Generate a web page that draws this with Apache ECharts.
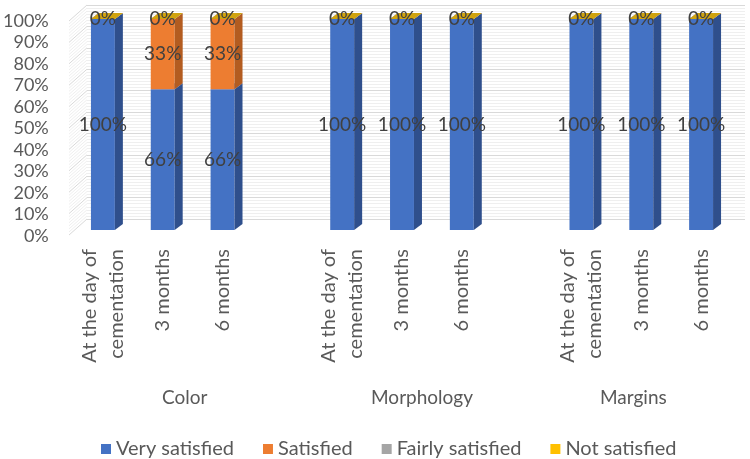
<!DOCTYPE html>
<html><head><meta charset="utf-8">
<script src="https://cdn.jsdelivr.net/npm/echarts@6/dist/echarts.min.js"></script>
<style>html,body{margin:0;padding:0;background:#fff}#c{width:750px;height:459px}</style>
</head><body><div id="c"></div>
<script>
// ---- data ----
const categories = ['At the day of\ncementation', '3 months', '6 months', '',
                    'At the day of\ncementation', '3 months', '6 months', '',
                    'At the day of\ncementation', '3 months', '6 months'];
const groups = ['Color', 'Morphology', 'Margins'];
const barSlots = [0, 1, 2, 4, 5, 6, 8, 9, 10];
const seriesNames = ['Very satisfied', 'Satisfied', 'Fairly satisfied', 'Not satisfied'];
const verySatisfied   = [100, 66, 66, 100, 100, 100, 100, 100, 100];
const satisfied       = [0, 33, 33, 0, 0, 0, 0, 0, 0];
const fairlySatisfied = [0, 0, 0, 0, 0, 0, 0, 0, 0];
const notSatisfied    = [0, 0, 0, 0, 0, 0, 0, 0, 0];
const yTicks = [0, 10, 20, 30, 40, 50, 60, 70, 80, 90, 100];

// ---- styling ----
const FONT = 'Lato';
const fronts = ['#4472C4', '#ED7D31', '#A5A5A5', '#FFC000'];
const sides  = ['#2F4F8C', '#B35C20', '#7A7A7A', '#BF9000'];
const tops   = ['#5A86D0', '#F19556', '#BDBDBD', '#D0A30E'];
const DX = 8, DY = 6;

// build 100%-stacked segments
const all = [verySatisfied, satisfied, fairlySatisfied, notSatisfied];
const segData = all.map(() => []);
barSlots.forEach((slot, j) => {
  const total = all.reduce((s, arr) => s + arr[j], 0);
  let cum = 0;
  all.forEach((arr, k) => {
    const h = arr[j] / total * 100;
    segData[k].push([slot, cum, cum + h, arr[j]]);
    cum += h;
  });
});

function makeRender(k) {
  return function (params, api) {
    const x = api.value(0), b = api.value(1), t = api.value(2), raw = api.value(3);
    const p0 = api.coord([x, b]), p1 = api.coord([x, t]);
    const w = api.size([1, 0])[0] * 0.4;
    const xl = p0[0] - w / 2, xr = p0[0] + w / 2;
    const ch = [];
    ch.push({ type: 'rect', shape: { x: xl, y: p1[1], width: w, height: p0[1] - p1[1] }, style: { fill: fronts[k] } });
    ch.push({ type: 'polygon', shape: { points: [[xr, p1[1]], [xr + DX, p1[1] - DY], [xr + DX, p0[1] - DY], [xr, p0[1]]] }, style: { fill: sides[k] } });
    ch.push({ type: 'polygon', shape: { points: [[xl, p1[1]], [xl + DX, p1[1] - DY], [xr + DX, p1[1] - DY], [xr, p1[1]]] }, style: { fill: tops[k] } });
    const show = (k === 3) || ((k === 0 || k === 1) && raw > 0);
    if (show) {
      ch.push({ type: 'text', z2: 100, style: { text: raw + '%', x: p0[0], y: (p0[1] + p1[1]) / 2, align: 'center', verticalAlign: 'middle', font: '19px ' + FONT, fill: '#404040' } });
    }
    return { type: 'group', children: ch };
  };
}

const series = seriesNames.map((name, k) => ({
  name: name,
  type: 'custom',
  xAxisIndex: 0, yAxisIndex: 0,
  clip: false,
  itemStyle: { color: fronts[k] },
  renderItem: makeRender(k),
  encode: { x: 0, y: [1, 2] },
  data: segData[k],
  z: 10 + k
}));

// left side wall lines
series.push({
  type: 'custom', xAxisIndex: 2, yAxisIndex: 2, silent: true, clip: false, z: 1,
  renderItem: function (params, api) {
    const v = api.value(1);
    const ch = [];
    const p = api.coord([0, v]);
    ch.push({ type: 'line', shape: { x1: p[0], y1: p[1], x2: p[0] - 18, y2: p[1] + 16 }, style: { stroke: '#d9d9d9', lineWidth: 1 } });
    if (v < 100) {
      for (let m = 1; m < 7; m++) {
        const q = api.coord([0, v + m * 10 / 7]);
        ch.push({ type: 'line', shape: { x1: q[0], y1: q[1], x2: q[0] - 18, y2: q[1] + 16 }, style: { stroke: '#efefef', lineWidth: 1 } });
      }
    }
    return { type: 'group', children: ch };
  },
  data: yTicks.map(v => [0, v])
});

const groupShift = { 'Color': 'c', 'Morphology': 'm', 'Margins': 'g' };

const chart = echarts.init(document.getElementById('c'), null, { renderer: 'canvas' });
chart.setOption({
  animation: false,
  backgroundColor: '#ffffff',
  legend: {
    data: seriesNames,
    left: 96, top: 434,
    icon: 'rect', itemWidth: 10, itemHeight: 10, itemGap: 29,
    textStyle: { fontFamily: FONT, fontSize: 20, color: '#595959' }
  },
  grid: [
    { left: 73, right: 19, top: 19, bottom: 229 },  // bars
    { left: 73, right: 19, top: 21, bottom: 223 },  // y labels
    { left: 87, right: 5, top: 5, bottom: 240 }     // back wall
  ],
  xAxis: [
    { type: 'category', gridIndex: 0, data: categories, boundaryGap: true,
      axisLine: { show: false }, axisTick: { show: false },
      axisLabel: { interval: 0, rotate: 90, margin: 19, fontFamily: FONT, fontSize: 20, lineHeight: 27, color: '#595959' } },
    { type: 'value', gridIndex: 1, show: false, min: 0, max: 1 },
    { type: 'value', gridIndex: 2, show: false, min: 0, max: 1 },
    { type: 'category', gridIndex: 0, data: groups, position: 'bottom', offset: 150,
      axisLine: { show: false }, axisTick: { show: false },
      axisLabel: { interval: 0, fontFamily: FONT, fontSize: 19, color: '#595959',
        formatter: v => '{' + groupShift[v] + '|' + v + '}',
        rich: {
          c: { fontFamily: FONT, fontSize: 19, color: '#595959', padding: [0, 0, 0, 4] },
          m: { fontFamily: FONT, fontSize: 19, color: '#595959', padding: [0, 0, 0, 40] },
          g: { fontFamily: FONT, fontSize: 19, color: '#595959', padding: [0, 0, 0, 24] }
        } } }
  ],
  yAxis: [
    { type: 'value', gridIndex: 0, min: 0, max: 100, interval: 10, show: false },
    { type: 'value', gridIndex: 1, min: 0, max: 100, interval: 10,
      axisLine: { show: false }, axisTick: { show: false }, splitLine: { show: false },
      axisLabel: { margin: 25, fontFamily: FONT, fontSize: 18, color: '#595959', formatter: v => v + '%' } },
    { type: 'value', gridIndex: 2, min: 0, max: 100, interval: 10,
      axisLine: { show: false }, axisTick: { show: false }, axisLabel: { show: false },
      splitLine: { show: true, lineStyle: { color: '#d9d9d9', width: 1 } },
      minorTick: { show: false, splitNumber: 7 },
      minorSplitLine: { show: true, lineStyle: { color: '#efefef', width: 1 } } }
  ],
  series: series
});
</script>
</body></html>
